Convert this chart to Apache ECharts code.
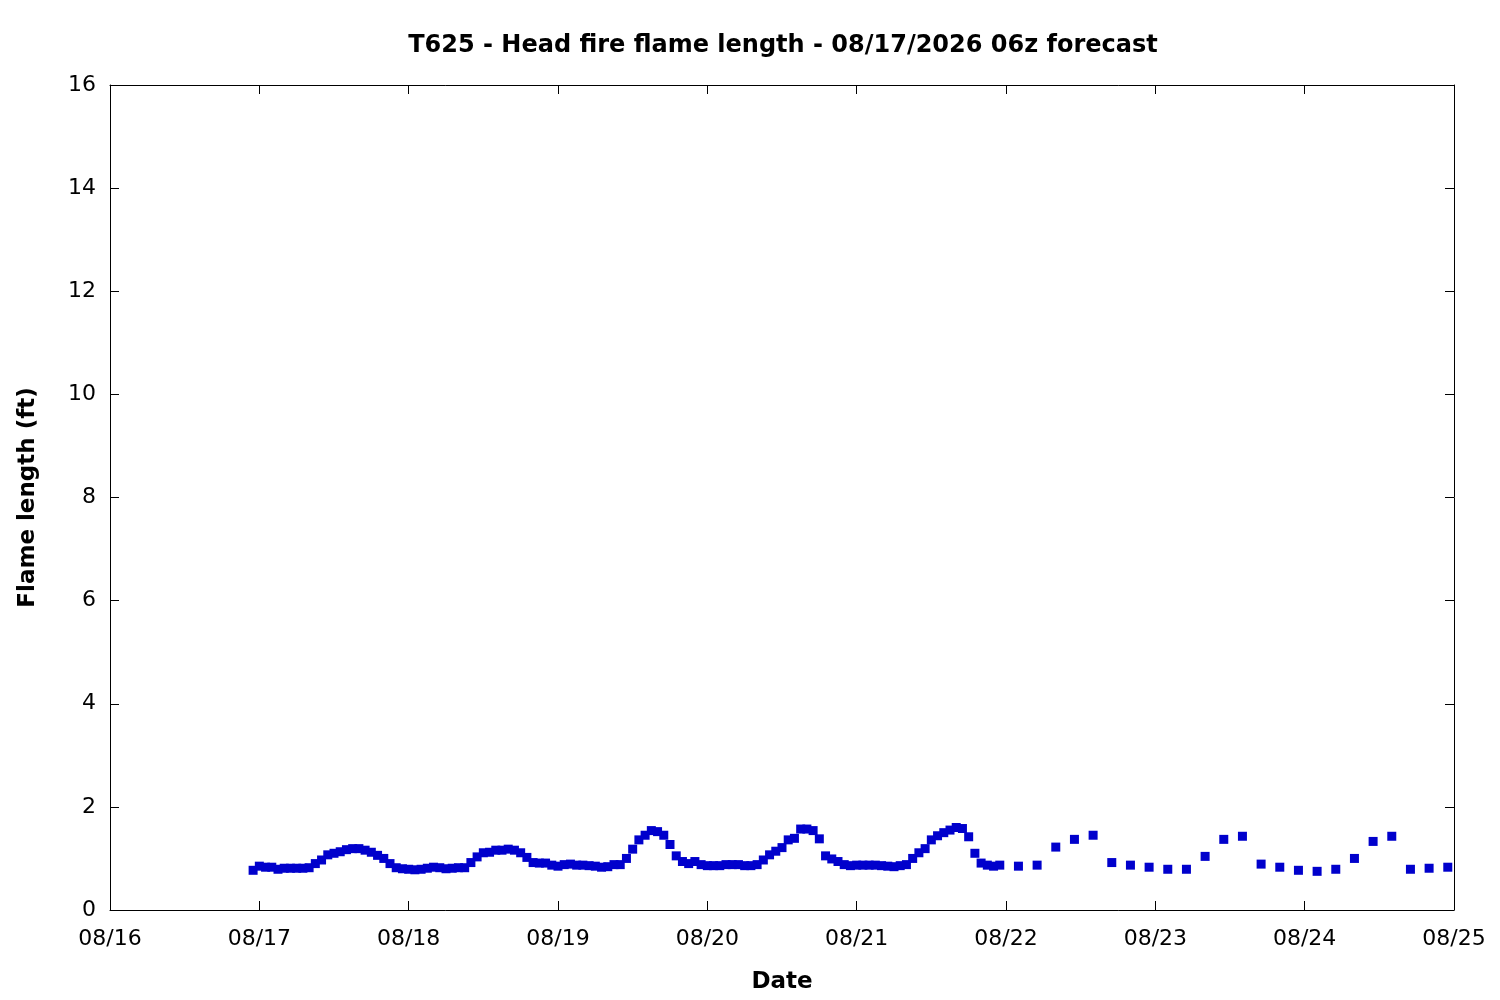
<!DOCTYPE html>
<html>
<head>
<meta charset="utf-8">
<script src="https://cdn.jsdelivr.net/npm/echarts@6/dist/echarts.min.js"></script>
<style>html,body{margin:0;padding:0;background:#fff;}#chart{width:1500px;height:1000px;}</style>
</head>
<body>
<div id="chart"></div>
<script>
// Hourly values from 2026-08-16 23:00 to 2026-08-21 23:00
var hourlyStart = '2026-08-16T23:00:00Z';
var hourlyValues = [
  0.77,0.85,0.83,0.83,0.79,0.81,0.81,0.81,0.81,0.82,
  0.90,0.97,1.07,1.10,1.13,1.17,1.19,1.19,1.16,1.12,
  1.06,1.00,0.90,0.82,0.80,0.79,0.78,0.79,0.81,0.83,
  0.82,0.80,0.81,0.82,0.82,0.92,1.03,1.11,1.12,1.16,
  1.16,1.18,1.16,1.11,1.02,0.92,0.91,0.91,0.87,0.85,
  0.88,0.89,0.87,0.87,0.86,0.85,0.83,0.84,0.88,0.88,
  1.00,1.18,1.36,1.45,1.54,1.52,1.45,1.27,1.05,0.94,
  0.90,0.94,0.88,0.86,0.86,0.86,0.88,0.88,0.88,0.86,
  0.86,0.88,0.97,1.07,1.14,1.21,1.36,1.39,1.57,1.57,
  1.54,1.38,1.05,0.99,0.94,0.88,0.86,0.87,0.87,0.87,
  0.87,0.86,0.85,0.84,0.86,0.88,1.00,1.11,1.19,1.36,
  1.44,1.50,1.55,1.60,1.58,1.42,1.10,0.91,0.87,0.85,
  0.87
];
// 3-hourly values from 2026-08-22 02:00 to 2026-08-24 23:00
var threeHourlyStart = '2026-08-22T02:00:00Z';
var threeHourlyValues = [
  0.85,0.87,1.22,1.37,1.45,0.92,0.87,0.83,
  0.79,0.79,1.04,1.37,1.43,0.89,0.83,0.77,
  0.75,0.79,1.00,1.33,1.43,0.79,0.81,0.83
];
var xTickLabels = ['08/16','08/17','08/18','08/19','08/20','08/21','08/22','08/23','08/24','08/25'];
var yTicks = [0,2,4,6,8,10,12,14,16];

var HOUR = 3600000, DAY = 24 * HOUR;
var xMin = Date.UTC(2026, 7, 16);
var xMax = xMin + (xTickLabels.length - 1) * DAY;

var data = [];
var t0 = Date.parse(hourlyStart);
hourlyValues.forEach(function (v, i) { data.push([t0 + i * HOUR, v]); });
var t1 = Date.parse(threeHourlyStart);
threeHourlyValues.forEach(function (v, i) { data.push([t1 + i * 3 * HOUR, v]); });

var font = 'DejaVu Sans';
var lineStyle = { color: '#000', width: 1 };
function xLabel(v) { var i = Math.round((v - xMin) / DAY); return xTickLabels[i] || ''; }

var chart = echarts.init(document.getElementById('chart'), null, { renderer: 'canvas' });
chart.setOption({
  animation: false,
  backgroundColor: '#fff',
  title: {
    text: 'T625 - Head fire flame length - 08/17/2026 06z forecast',
    left: 778, top: 29, textAlign: 'center',
    textStyle: { fontFamily: font, fontWeight: 'bold', fontSize: 24, color: '#000' }
  },
  grid: { left: 110, right: 46, top: 85, bottom: 90, containLabel: false },
  xAxis: [{
    type: 'value', min: xMin, max: xMax, interval: DAY,
    name: 'Date', nameLocation: 'middle', nameGap: 61,
    nameTextStyle: { fontFamily: font, fontWeight: 'bold', fontSize: 23, color: '#000' },
    axisLine: { show: true, onZero: false, lineStyle: lineStyle },
    axisTick: { show: true, inside: true, length: 9, lineStyle: lineStyle },
    axisLabel: { fontFamily: font, fontSize: 22, color: '#000', margin: 18, formatter: xLabel, showMinLabel: true, showMaxLabel: true },
    splitLine: { show: false }
  }, {
    type: 'value', position: 'top', min: xMin, max: xMax, interval: DAY,
    axisLine: { show: true, onZero: false, lineStyle: lineStyle },
    axisTick: { show: true, inside: true, length: 9, lineStyle: lineStyle },
    axisLabel: { show: false }, splitLine: { show: false }
  }],
  yAxis: [{
    type: 'value', min: yTicks[0], max: yTicks[yTicks.length - 1], interval: 2,
    name: 'Flame length (ft)', nameLocation: 'middle', nameGap: 70, nameRotate: 90,
    nameTextStyle: { fontFamily: font, fontWeight: 'bold', fontSize: 23, color: '#000' },
    axisLine: { show: true, onZero: false, lineStyle: lineStyle },
    axisTick: { show: true, inside: true, length: 9, lineStyle: lineStyle },
    axisLabel: { fontFamily: font, fontSize: 22, color: '#000', margin: 14 },
    splitLine: { show: false }
  }, {
    type: 'value', position: 'right', min: yTicks[0], max: yTicks[yTicks.length - 1], interval: 2,
    axisLine: { show: true, onZero: false, lineStyle: lineStyle },
    axisTick: { show: true, inside: true, length: 9, lineStyle: lineStyle },
    axisLabel: { show: false }, splitLine: { show: false }
  }],
  series: [{
    type: 'scatter', xAxisIndex: 0, yAxisIndex: 0,
    symbol: 'rect', symbolSize: 9,
    itemStyle: { color: '#0000cc', opacity: 1 },
    data: data
  }]
});
</script>
</body>
</html>
